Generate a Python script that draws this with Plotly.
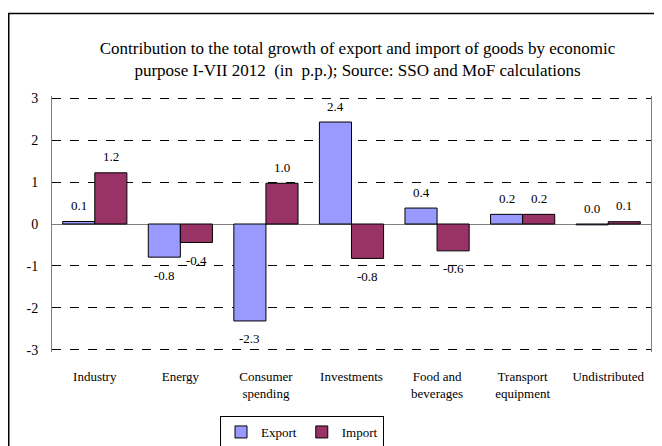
import plotly.graph_objects as go

categories = ["Industry", "Energy", "Consumer<br>spending", "Investments",
              "Food and<br>beverages", "Transport<br>equipment", "Undistributed"]
export_vals = [0.06, -0.79, -2.31, 2.43, 0.38, 0.23, -0.02]
import_vals = [1.22, -0.44, 0.97, -0.82, -0.64, 0.23, 0.055]
y_ticks = [3, 2, 1, 0, -1, -2, -3]

FONT = "Liberation Serif"
EXPORT_COLOR = "#9999FF"
IMPORT_COLOR = "#993366"

# page body has an 8px margin; the figure is sized to fit the 662x446 window
W, H = 654, 438
L, T, R, B = 44, 88, 11, 94
PW, PH = W - L - R, H - T - B


def fmt(v):
    s = f"{v:.1f}"
    return "0.0" if s == "-0.0" else s


fig = go.Figure()
fig.add_trace(go.Bar(name="Export", x=categories, y=export_vals,
                     marker=dict(color=EXPORT_COLOR, line=dict(color="black", width=1))))
fig.add_trace(go.Bar(name="Import", x=categories, y=import_vals,
                     marker=dict(color=IMPORT_COLOR, line=dict(color="black", width=1))))

annotations = []
for vals, shift in ((export_vals, -16), (import_vals, 16)):
    for c, v in zip(categories, vals):
        annotations.append(dict(x=c, y=v, xref="x", yref="y", text=fmt(v),
                                showarrow=False, xshift=shift,
                                yshift=16 if round(v, 1) >= 0 else -18,
                                font=dict(family=FONT, size=13, color="black")))

fig.update_layout(
    width=W, height=H,
    margin=dict(l=L, r=R, t=T, b=B, autoexpand=False),
    paper_bgcolor="white", plot_bgcolor="white",
    barmode="group", bargap=0.25, bargroupgap=0,
    font=dict(family=FONT, size=13, color="black"),
    title=dict(text="Contribution to the total growth of export and import of goods by economic<br>"
                    "purpose I-VII 2012  (in  p.p.); Source: SSO and MoF calculations",
               x=0.51, xref="paper", xanchor="center",
               y=1 - 46 / H, yref="container", yanchor="middle",
               font=dict(family=FONT, size=17, color="black")),
    xaxis=dict(showgrid=False, ticks="", ticklabelstandoff=15, showline=False,
               tickfont=dict(family=FONT, size=13)),
    yaxis=dict(range=[-3.05, 3.05], tickvals=y_ticks, ticktext=[str(t) for t in y_ticks],
               showgrid=True, gridcolor="black", griddash="dash", gridwidth=1,
               zeroline=True, zerolinecolor="#808080", zerolinewidth=1,
               showline=True, linecolor="#808080", linewidth=1, mirror=True,
               ticks="", ticklabelstandoff=10,
               tickfont=dict(family=FONT, size=14)),
    legend=dict(orientation="h", x=(294 - L) / PW, xanchor="center",
                y=(T + PH - 408) / PH, yanchor="top",
                bordercolor="black", borderwidth=1, bgcolor="white",
                font=dict(family=FONT, size=13), itemwidth=30,
                traceorder="normal"),
    annotations=annotations,
    shapes=[dict(type="rect", xref="paper", yref="paper",
                 x0=(0.75 - L) / PW, x1=(W + 20 - L) / PW,
                 y0=(T + PH - (H + 20)) / PH, y1=(T + PH - 5.5) / PH,
                 line=dict(color="black", width=1.5), fillcolor="rgba(0,0,0,0)",
                 layer="below")],
)

fig.write_html("out.html")
